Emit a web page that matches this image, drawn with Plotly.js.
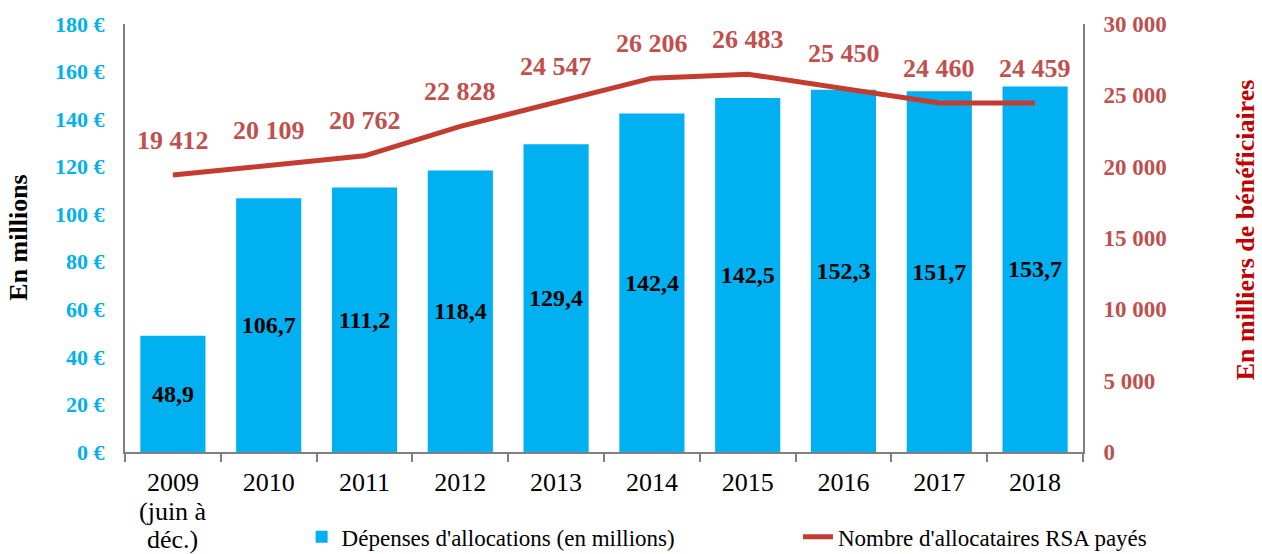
<!DOCTYPE html>
<html>
<head>
<meta charset="utf-8">
<script src="https://cdn.plot.ly/plotly-3.0.1.min.js"></script>
<style>html,body{margin:0;padding:0;background:#fff;}#chart{width:1262px;height:554px;}</style>
</head>
<body>
<div id="chart"></div>
<script>
const categories = ["2009", "2010", "2011", "2012", "2013", "2014", "2015", "2016", "2017", "2018"];
const firstCategoryNote = ["(juin à", "déc.)"];
const depenses = [48.9, 106.7, 111.2, 118.4, 129.4, 142.4, 148.9, 152.3, 151.7, 153.7];
const depensesLabels = ["48,9", "106,7", "111,2", "118,4", "129,4", "142,4", "142,5", "152,3", "151,7", "153,7"];
const allocataires = [19412, 20109, 20762, 22828, 24547, 26206, 26483, 25450, 24460, 24459];
const leftTicks = [0, 20, 40, 60, 80, 100, 120, 140, 160, 180];
const rightTicks = [0, 5000, 10000, 15000, 20000, 25000, 30000];

function fmt(n){ return String(n).replace(/\B(?=(\d{3})+(?!\d))/g, " "); }

const FONT = "Liberation Serif";
const BLUE = "#00B0F0";
const RED = "#C0504D";
const LINE = "#C43C30";

const traces = [
  {
    type: "bar", x: categories, y: depenses, name: "Dépenses d'allocations (en millions)",
    marker: {color: BLUE}, text: depensesLabels, texttemplate: "%{text}",
    textposition: "inside", insidetextanchor: "middle", textangle: 0, constraintext: "none",
    insidetextfont: {family: FONT, size: 24, color: "#000", weight: "bold"},
    hoverinfo: "skip", legend: "legend"
  },
  {
    type: "scatter", mode: "lines", x: categories, y: allocataires, yaxis: "y2",
    name: "Nombre d'allocataires RSA payés",
    line: {color: LINE, width: 5}, hoverinfo: "skip", legend: "legend2"
  }
];

const annotations = allocataires.map((v, i) => ({
  x: i, y: v, xref: "x", yref: "y2", text: fmt(v), showarrow: false,
  yshift: 35, font: {family: FONT, size: 26, color: RED, weight: "bold"}
}));
firstCategoryNote.forEach((t, k) => annotations.push({
  x: 0, xref: "x", yref: "paper", y: -0.138 - k * 0.066, yanchor: "middle", text: t, showarrow: false,
  font: {family: FONT, size: 26, color: "#000"}
}));
annotations.push({
  text: "En millions", xref: "paper", yref: "paper", x: -0.112, y: 0.5, xanchor: "center", yanchor: "middle",
  textangle: -90, showarrow: false, font: {family: FONT, size: 26, color: "#000", weight: "bold"}
});
annotations.push({
  text: "En milliers de bénéficiaires", xref: "paper", yref: "paper", x: 1.17, y: 0.52, xanchor: "center", yanchor: "middle",
  textangle: -90, showarrow: false, font: {family: FONT, size: 26, color: "#C00000", weight: "bold"}
});

const legendBase = {
  orientation: "h", xref: "container", yref: "container", y: 0.031,
  xanchor: "left", yanchor: "middle",
  font: {family: FONT, size: 23, color: "#000"}, bgcolor: "rgba(0,0,0,0)"
};

const layout = {
  width: 1262, height: 554,
  margin: {l: 125, r: 179, t: 24, b: 102},
  paper_bgcolor: "#fff", plot_bgcolor: "#fff",
  font: {family: FONT},
  bargap: 0.32,
  showlegend: true,
  legend: Object.assign({}, legendBase, {x: 0.239}),
  legend2: Object.assign({}, legendBase, {x: 0.6323}),
  xaxis: {
    type: "category", range: [-0.5, 9.5], autorange: false, automargin: false,
    showline: true, linecolor: "#808080", linewidth: 2,
    ticks: "outside", tickson: "boundaries", ticklen: 8, tickcolor: "#808080", tickwidth: 2,
    tickangle: 0, ticklabelstandoff: 6,
    tickfont: {family: FONT, size: 26, color: "#000"}, showgrid: false, zeroline: false
  },
  yaxis: {
    range: [0, 180], tickvals: leftTicks, ticktext: leftTicks.map(v => v + " €"), automargin: false,
    showline: true, linecolor: "#808080", linewidth: 2, ticks: "",
    tickfont: {family: FONT, size: 22, color: BLUE, weight: "bold"},
    showgrid: false, zeroline: false, ticklabelstandoff: 14
  },
  yaxis2: {
    overlaying: "y", side: "right", range: [0, 30000], tickvals: rightTicks, ticktext: rightTicks.map(fmt), automargin: false,
    showline: true, linecolor: "#808080", linewidth: 2, ticks: "",
    tickfont: {family: FONT, size: 23, color: RED, weight: "bold"},
    showgrid: false, zeroline: false, ticklabelstandoff: 14
  },
  annotations: annotations
};

Plotly.newPlot("chart", traces, layout, {displayModeBar: false, staticPlot: true});
</script>
</body>
</html>
